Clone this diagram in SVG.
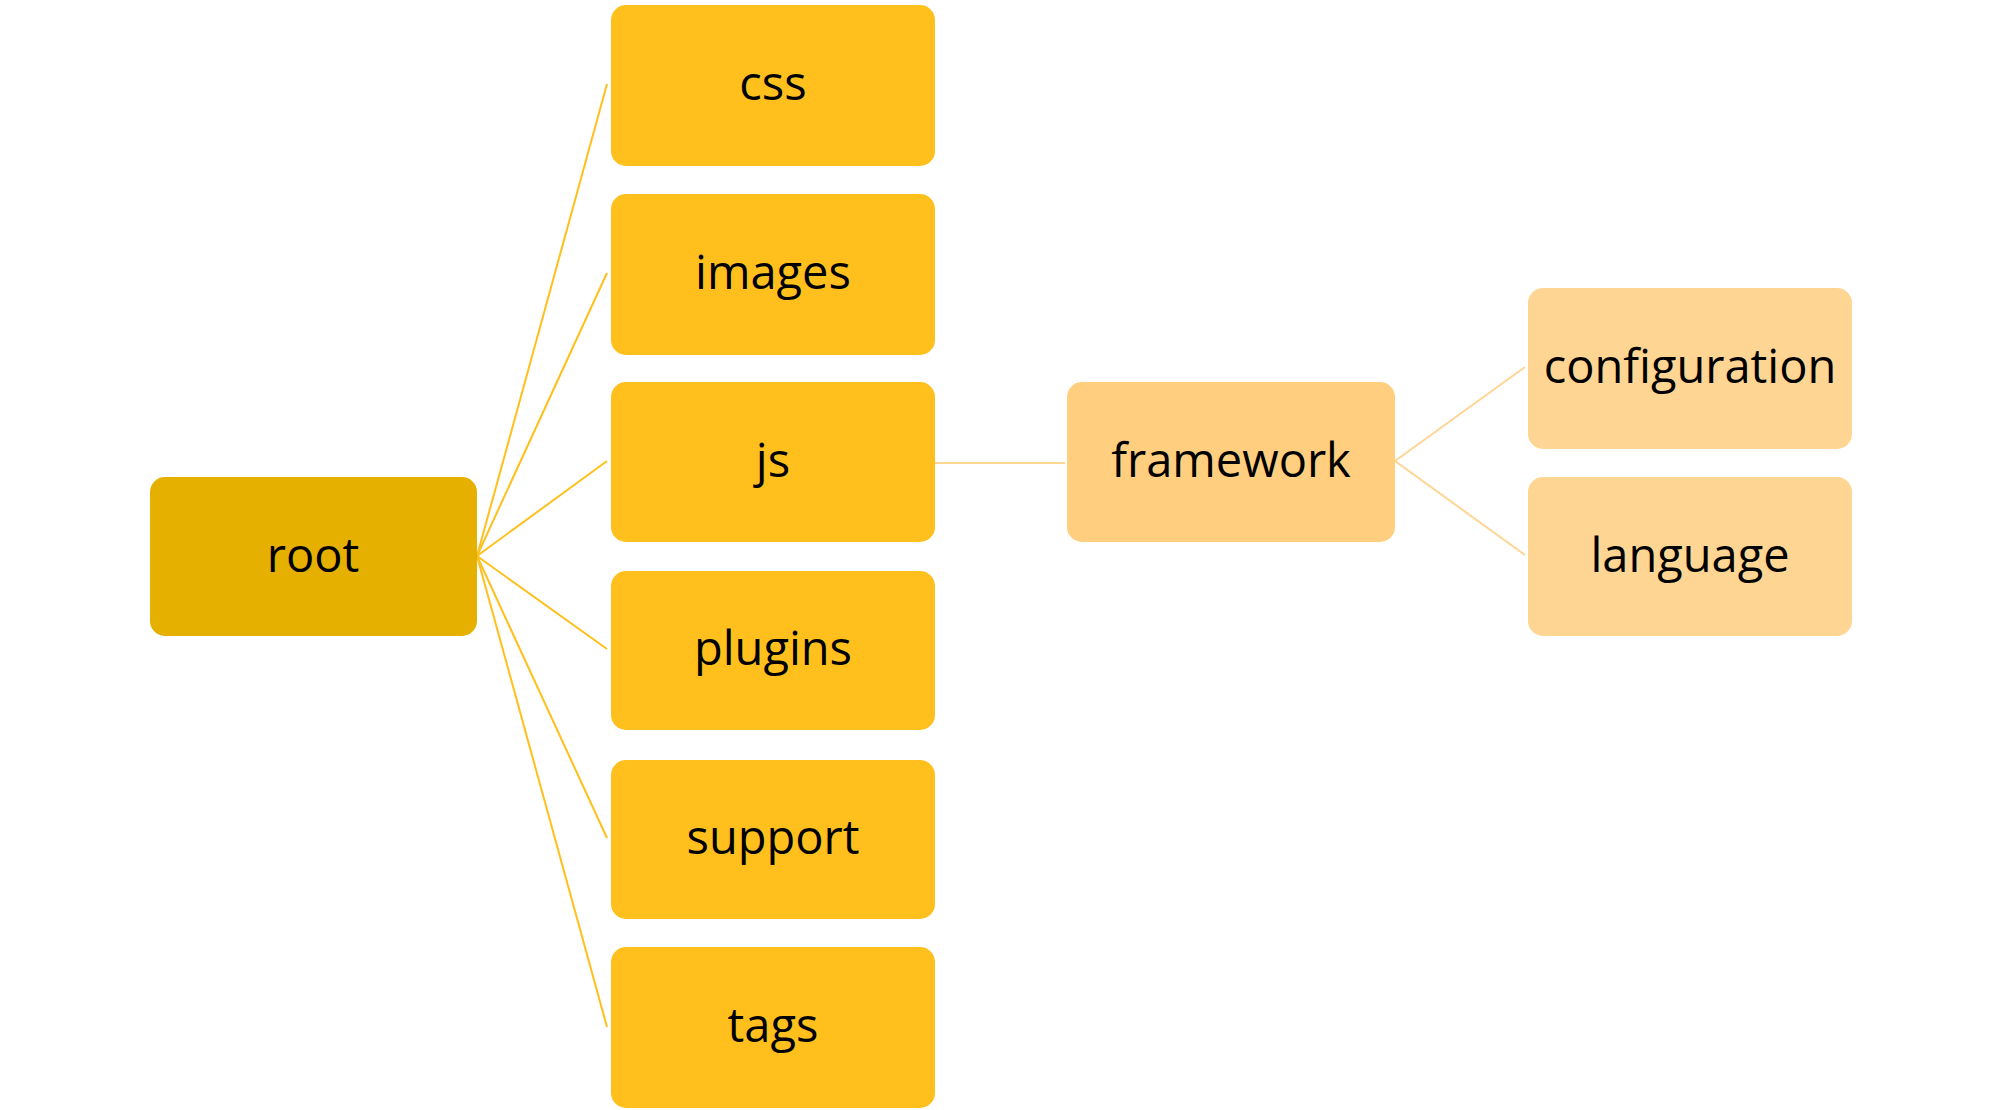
<svg xmlns="http://www.w3.org/2000/svg" width="1999" height="1110" viewBox="0 0 1999 1110">
<style>
.lbl{font-family:"Open Sans","Noto Sans",sans-serif;font-size:47px;fill:#000;text-anchor:middle}
.l1{fill:#E6B000}
.l2{fill:#FFC01D}
.l3{fill:#FFCF7F}
.l4{fill:#FFD593}
.c1{stroke:#FFC01D;stroke-width:2;fill:none}
.c2{stroke:#FFD593;stroke-width:2;fill:none}
</style>
<rect width="1999" height="1110" fill="#fff"/>
<g id="connectors">
<line class="c1" x1="477" y1="556" x2="607" y2="84"/>
<line class="c1" x1="477" y1="556" x2="607" y2="273"/>
<line class="c1" x1="477" y1="556" x2="607" y2="461"/>
<line class="c1" x1="477" y1="556" x2="607" y2="649"/>
<line class="c1" x1="477" y1="556" x2="607" y2="838"/>
<line class="c1" x1="477" y1="556" x2="607" y2="1027"/>
<line class="c2" x1="935" y1="463" x2="1065" y2="463"/>
<line class="c2" x1="1395" y1="461" x2="1525" y2="367"/>
<line class="c2" x1="1395" y1="461" x2="1525" y2="555"/>
</g>
<g id="root"><rect class="l1" x="150" y="477" width="327" height="159" rx="15"/><text class="lbl" x="313" y="572">root</text></g>
<g id="css"><rect class="l2" x="611" y="5" width="324" height="161" rx="15"/><text class="lbl" x="773" y="100">css</text></g>
<g id="images"><rect class="l2" x="611" y="194" width="324" height="161" rx="15"/><text class="lbl" x="773" y="289">images</text></g>
<g id="js"><rect class="l2" x="611" y="382" width="324" height="160" rx="15"/><text class="lbl" x="773" y="477">js</text></g>
<g id="plugins"><rect class="l2" x="611" y="571" width="324" height="159" rx="15"/><text class="lbl" x="773" y="665">plugins</text></g>
<g id="support"><rect class="l2" x="611" y="760" width="324" height="159" rx="15"/><text class="lbl" x="773" y="854">support</text></g>
<g id="tags"><rect class="l2" x="611" y="947" width="324" height="161" rx="15"/><text class="lbl" x="773" y="1042">tags</text></g>
<g id="framework"><rect class="l3" x="1067" y="382" width="328" height="160" rx="15"/><text class="lbl" x="1231" y="477">framework</text></g>
<g id="configuration"><rect class="l4" x="1528" y="288" width="324" height="161" rx="15"/><text class="lbl" x="1690" y="383">configuration</text></g>
<g id="language"><rect class="l4" x="1528" y="477" width="324" height="159" rx="15"/><text class="lbl" x="1690" y="572">language</text></g>
</svg>
